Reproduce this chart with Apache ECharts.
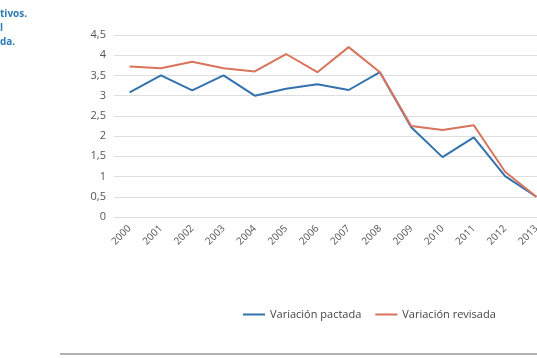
<!DOCTYPE html>
<html>
<head>
<meta charset="utf-8">
<script src="https://cdn.jsdelivr.net/npm/echarts@6/dist/echarts.min.js"></script>
<style>
html,body{margin:0;padding:0;background:#fff;}
#c{width:537px;height:358px;}
</style>
</head>
<body>
<div id="c"></div>
<script>
var years = ['2000','2001','2002','2003','2004','2005','2006','2007','2008','2009','2010','2011','2012','2013'];
var pactada = [3.08, 3.5, 3.13, 3.5, 3.0, 3.17, 3.28, 3.14, 3.58, 2.22, 1.48, 1.97, 1.01, 0.5];
var revisada = [3.72, 3.68, 3.84, 3.68, 3.6, 4.03, 3.58, 4.2, 3.58, 2.25, 2.15, 2.27, 1.12, 0.5];
var yTicks = ['0','0,5','1','1,5','2','2,5','3','3,5','4','4,5'];
var titleLines = ['tivos.', 'l', 'da.'];

var chart = echarts.init(document.getElementById('c'), null, {renderer:'canvas'});
var font = '"Open Sans", "Noto Sans", sans-serif';
chart.setOption({
  animation: false,
  backgroundColor: '#fff',
  grid: {left: 114, width: 438, top: 35, height: 182, outerBoundsMode: 'none', containLabel: false},
  legend: {
    data: ['Variación pactada', 'Variación revisada'],
    left: 238, top: 304,
    icon: 'rect', itemWidth: 22, itemHeight: 2, itemGap: 14,
    textStyle: {fontFamily: font, fontSize: 11, color: '#444'}
  },
  xAxis: {
    type: 'category', data: years, boundaryGap: true,
    axisLine: {show: true, lineStyle: {color: '#d9d9d9', width: 1}},
    axisTick: {show: false},
    axisLabel: {rotate: 45, fontFamily: font, fontSize: 10, color: '#555', margin: 10, interval: 0}
  },
  yAxis: {
    type: 'value', min: 0, max: 4.5, interval: 0.5,
    axisLine: {show: false}, axisTick: {show: false},
    splitLine: {lineStyle: {color: '#dedede', width: 1}},
    axisLabel: {fontFamily: font, fontSize: 11, color: '#555', margin: 8,
      formatter: function(v){ return yTicks[Math.round(v*2)]; }}
  },
  series: [
    {name: 'Variación pactada', type: 'line', data: pactada, symbol: 'none',
     lineStyle: {color: '#3472ae', width: 2}, itemStyle: {color: '#3472ae'}},
    {name: 'Variación revisada', type: 'line', data: revisada, symbol: 'none',
     lineStyle: {color: '#d8735c', width: 2}, itemStyle: {color: '#d8735c'}}
  ],
  graphic: [
    {type: 'text', left: 0, top: 9, style: {text: titleLines[0], fill: '#2d7cb8', font: 'bold 10px ' + font}},
    {type: 'text', left: 0, top: 23, style: {text: titleLines[1], fill: '#2d7cb8', font: 'bold 10px ' + font}},
    {type: 'text', left: 0, top: 37, style: {text: titleLines[2], fill: '#2d7cb8', font: 'bold 10px ' + font}},
    {type: 'rect', shape: {x: 60, y: 353, width: 477, height: 2}, style: {fill: '#b0b0b0'}}
  ]
});
</script>
</body>
</html>
